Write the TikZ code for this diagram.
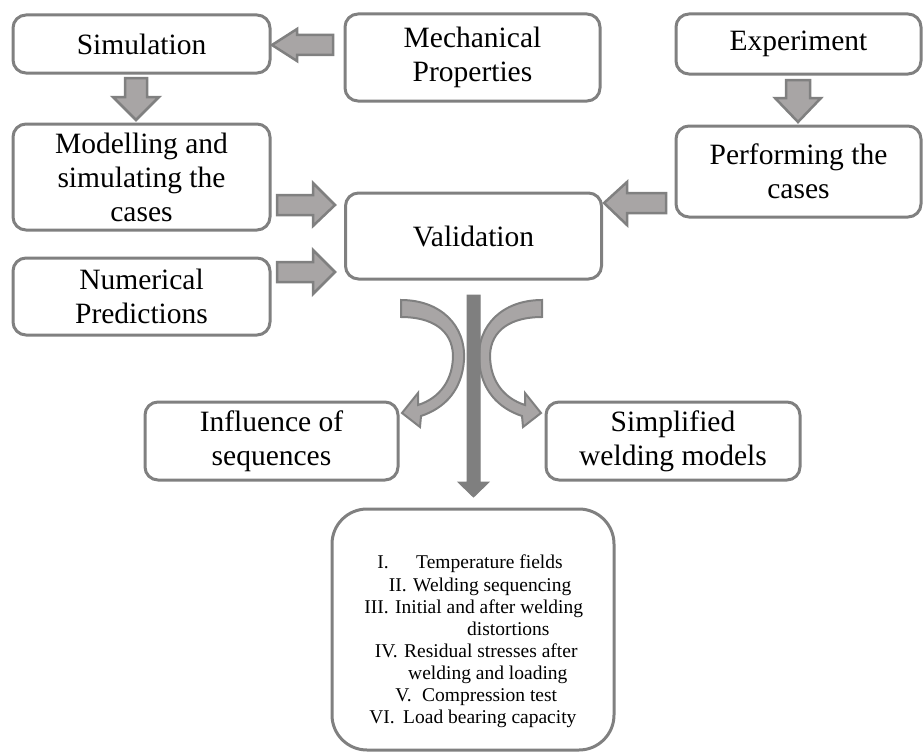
\documentclass[tikz,border=0pt]{standalone}
\usepackage{fontspec}
\setmainfont{Liberation Serif}
\definecolor{edgegray}{RGB}{128,128,128}
\definecolor{fillgray}{RGB}{168,165,165}
\definecolor{darkgray}{RGB}{127,127,127}
\begin{document}
\begin{tikzpicture}[x=1pt,y=-1pt,
  box/.style={draw=edgegray, line width=3pt, rounded corners=13pt, fill=white,
    align=center, inner sep=0pt, font=\fontsize{29.5}{34}\selectfont},
  blk/.style={draw=edgegray, line width=2.5pt, fill=fillgray, line join=miter},
  vert/.style={draw=darkgray, line width=1pt, fill=darkgray},
  item/.style={anchor=base west, inner sep=0pt, font=\fontsize{19.5}{22}\selectfont},
  num/.style={anchor=base east, inner sep=0pt, font=\fontsize{19.5}{22}\selectfont}]
\useasboundingbox (0,0) rectangle (923,752);
% boxes
\node[box, minimum width=257, minimum height=58] (sim) at (141.5,44) {Simulation};
\node[box, minimum width=255, minimum height=87] (mech) at (472.5,57.5) {Mechanical\\Properties};
\node[box, minimum width=245, minimum height=60] (exp) at (798.5,44) {Experiment};
\node[box, minimum width=257, minimum height=106] (model) at (141.5,177) {Modelling and\\simulating the\\cases};
\node[box, minimum width=245, minimum height=91] (perf) at (798.5,171.5) {Performing the\\cases};
\node[box, minimum width=256, minimum height=86] (valid) at (473.5,236) {Validation};
\node[box, minimum width=257, minimum height=77] (numer) at (141.5,296.5) {Numerical\\Predictions};
\node[box, minimum width=253, minimum height=78] (infl) at (271.5,441) {Influence of\\sequences};
\node[box, minimum width=254, minimum height=78] (simp) at (673,441) {Simplified\\welding models};
\node[box, rounded corners=35pt, minimum width=282, minimum height=241] (list) at (473,629.5) {};
% block arrows
\draw[blk] (333,35) -- (297,35) -- (297,29) -- (272,45) -- (297,61) -- (297,55) -- (333,55) -- cycle;
\draw[blk] (125,78) -- (147,78) -- (147,97) -- (159,97) -- (136,120) -- (113,97) -- (125,97) -- cycle;
\draw[blk] (786,80) -- (810,80) -- (810,98) -- (821,98) -- (798,122) -- (775,98) -- (786,98) -- cycle;
\draw[blk] (277,195) -- (313,195) -- (313,183) -- (335,205) -- (313,226) -- (313,215) -- (277,215) -- cycle;
\draw[blk] (277,262) -- (313,262) -- (313,250) -- (335,272) -- (313,294) -- (313,282) -- (277,282) -- cycle;
\draw[blk] (666,193) -- (627,193) -- (627,182) -- (604,203) -- (627,225) -- (627,213) -- (666,213) -- cycle;
% curved arrows
\draw[blk, line width=2pt] (401,300) .. controls (440,300) and (466,325) .. (464,360)
  .. controls (462,390) and (445,408) .. (421,416) -- (420,427) -- (402,413) -- (418,393) -- (418,405)
  .. controls (440,398) and (453,380) .. (453,355) .. controls (452,330) and (432,317) .. (401,317) -- cycle;
\begin{scope}[shift={(943,0)}, xscale=-1]
\draw[blk, line width=2pt] (401,300) .. controls (440,300) and (466,325) .. (464,360)
  .. controls (462,390) and (445,408) .. (421,416) -- (420,427) -- (402,413) -- (418,393) -- (418,405)
  .. controls (440,398) and (453,380) .. (453,355) .. controls (452,330) and (432,317) .. (401,317) -- cycle;
\end{scope}
% vertical arrow
\draw[vert] (467,295) -- (480,295) -- (480,482) -- (489,482) -- (473.5,497) -- (458,482) -- (467,482) -- cycle;
% list text
\node[num] (l1n) at (389,568) {I.};
\node[item] (l1t) at (416,568) {Temperature fields};
\node[num] (l2n) at (407,591) {II.};
\node[item] (l2t) at (413,591) {Welding sequencing};
\node[num] (l3n) at (389,613) {III.};
\node[item] (l3t) at (395,613) {Initial and after welding};
\node[item] (l4t) at (467,635) {distortions};
\node[num] (l5n) at (398,657) {IV.};
\node[item] (l5t) at (404,657) {Residual stresses after};
\node[item] (l6t) at (408,679) {welding and loading};
\node[num] (l7n) at (412,701) {V.};
\node[item] (l7t) at (422,701) {Compression test};
\node[num] (l8n) at (395,723) {VI.};
\node[item] (l8t) at (403,723) {Load bearing capacity};
\end{tikzpicture}
\end{document}
